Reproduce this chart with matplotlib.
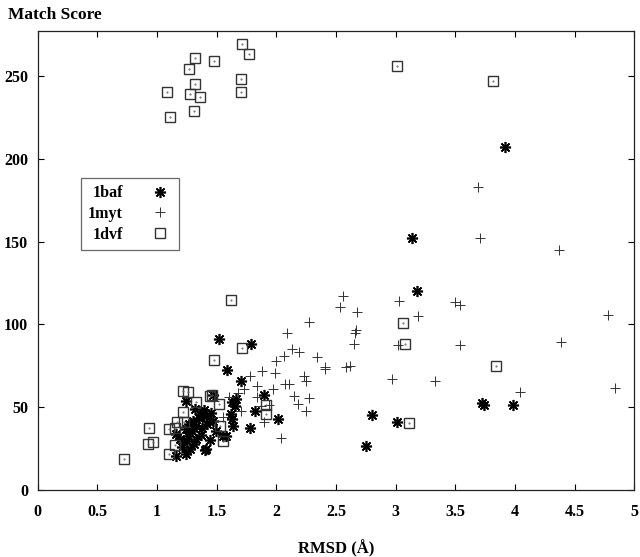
"""
Match score vs RMSD scatter for three proteins.
"""

import numpy as np
import matplotlib
matplotlib.use('Agg')
import matplotlib.pyplot as plt

# 1baf (asterisks)
baf_x = [3.92, 3.14, 3.18, 1.52, 1.79, 1.59, 1.70, 1.90, 1.47, 1.63, 1.65, 1.66,
         1.82, 2.01, 1.62, 1.63, 1.64, 1.78, 1.58, 1.40, 2.80, 2.75, 3.01, 3.74,
         3.72, 3.98, 1.24, 1.32, 1.39, 1.41, 1.35, 1.42, 1.38, 1.33, 1.47, 1.49,
         1.29, 1.26, 1.25, 1.19, 1.16, 1.24, 1.31, 1.28, 1.41, 1.24, 1.16, 1.33,
         1.55, 1.36, 1.30, 1.45, 1.21, 1.37, 1.44, 1.27]
baf_y = [207, 152, 120, 91, 88.5, 72.4, 66, 57.4, 57.4, 53.2, 50.8, 55.2,
         47.8, 42.8, 45.8, 42.8, 38.8, 37.6, 32.8, 24.2, 45.4, 26.8, 41.2, 51.4,
         52.5, 51.4, 53.8, 49.2, 48.2, 44.8, 43.8, 39.8, 37.8, 38.8, 41.8, 35.8,
         35.8, 32.8, 29.8, 30.8, 33.8, 36.8, 27.8, 24.8, 24.8, 21.8, 20.8, 30.8,
         32.8, 46, 42, 46.5, 26, 33, 30, 40]

# 1myt (plus)
myt_x = [3.69, 3.71, 4.37, 3.03, 3.50, 3.54, 3.19, 4.78, 3.02, 3.54, 4.39, 2.97,
         3.33, 4.04, 4.84, 2.56, 2.53, 2.68, 2.27, 2.67, 2.66, 2.09, 2.65, 2.13,
         2.19, 2.06, 2.00, 2.34, 2.41, 2.41, 2.58, 2.62, 1.88, 1.78, 1.99, 2.23,
         2.25, 2.07, 2.11, 1.84, 1.73, 1.97, 1.68, 2.15, 2.27, 2.18, 2.25, 2.04,
         1.87, 1.94, 1.90, 1.60, 1.70, 1.55, 1.48, 1.84]
myt_y = [183, 152, 145, 114, 113.5, 111.7, 105, 106, 87.4, 87.4, 89.5, 67.2,
         65.6, 59.2, 61.8, 117.3, 110.7, 107.3, 101.3, 96.9, 94.9, 94.7, 88.3, 84.9,
         83.5, 81.2, 78.2, 80.2, 74.5, 73.3, 74.5, 75.2, 71.8, 68.8, 70.9, 68.8,
         65.6, 64.0, 64.0, 62.6, 60.8, 61.0, 58.8, 56.6, 55.6, 51.8, 47.8, 31.2,
         50.8, 51.4, 41.2, 56, 48, 44, 54, 56]

# 1dvf (squares)
dvf_x = [1.71, 1.77, 1.32, 1.48, 1.27, 1.70, 1.32, 1.70, 1.08, 1.28, 1.36, 1.31,
         1.11, 3.01, 3.82, 1.62, 1.71, 1.48, 3.06, 3.08, 3.84, 3.11, 1.22, 1.26,
         1.46, 1.44, 1.52, 1.33, 1.91, 1.91, 1.53, 1.55, 0.93, 0.92, 0.97, 0.72,
         1.10, 1.15, 1.17, 1.23, 1.22, 1.10, 1.15]
dvf_y = [269, 263, 261, 259, 254, 248, 245, 240, 240, 239, 237, 229,
         225, 256, 247, 115, 86, 78.6, 100.7, 88, 75, 40.4, 59.8, 59.4,
         57.4, 56.8, 52.2, 53.4, 51.4, 45.8, 38.8, 29.4, 37.7, 28, 29, 19,
         36.8, 37.3, 41.2, 41, 47.2, 22.1, 27]

xticks = [0, 0.5, 1, 1.5, 2, 2.5, 3, 3.5, 4, 4.5, 5]
xtick_labels = ['0', '0.5', '1', '1.5', '2', '2.5', '3', '3.5', '4', '4.5', '5']
yticks = [0, 50, 100, 150, 200, 250]

plt.rcParams['font.family'] = ['Liberation Serif', 'DejaVu Serif']
plt.rcParams['font.weight'] = 'bold'

fig = plt.figure(figsize=(6.4, 5.57), dpi=100)
ax = fig.add_axes([0.059, 0.12, 0.932, 0.824])

ax.plot(baf_x, baf_y, linestyle='none', marker=(8, 2, 0), markersize=8,
        markeredgewidth=1.2, color='black', label='1baf')
ax.plot(myt_x, myt_y, linestyle='none', marker='+', markersize=7,
        markeredgewidth=0.7, color='#333333', label='1myt')
ax.plot(dvf_x, dvf_y, linestyle='none', marker='s', markersize=7,
        markerfacecolor='none', markeredgewidth=1.0, markeredgecolor='#333333',
        label='1dvf')
# little centre dot of the square symbol
ax.plot(dvf_x, dvf_y, linestyle='none', marker='.', markersize=1.0, color='#666666')

ax.set_xlim(0, 5)
ax.set_ylim(0, 277)
ax.set_xticks(xticks)
ax.set_xticklabels(xtick_labels)
ax.set_yticks(yticks)
ax.tick_params(direction='in', top=True, right=True, length=4, width=0.8,
               labelsize=11.5, pad=7)
ax.tick_params(axis='x', pad=10)
for s in ax.spines.values():
    s.set_linewidth(0.9)
    s.set_color('#222222')

ax.set_xlabel('RMSD (Å)', fontsize=12, fontweight='bold', labelpad=14)
fig.text(0.013, 0.973, 'Match Score', fontsize=12.5, fontweight='bold',
         ha='left', va='center')

leg = ax.legend(loc='upper left', bbox_to_anchor=(0.072, 0.68), frameon=True,
                fancybox=False, edgecolor='#444444', fontsize=11.5,
                markerfirst=False, handlelength=1.5, handletextpad=1.6,
                borderpad=0.45, labelspacing=0.3, borderaxespad=0)
leg.get_frame().set_linewidth(0.9)

fig.savefig('out.png', dpi=100)
